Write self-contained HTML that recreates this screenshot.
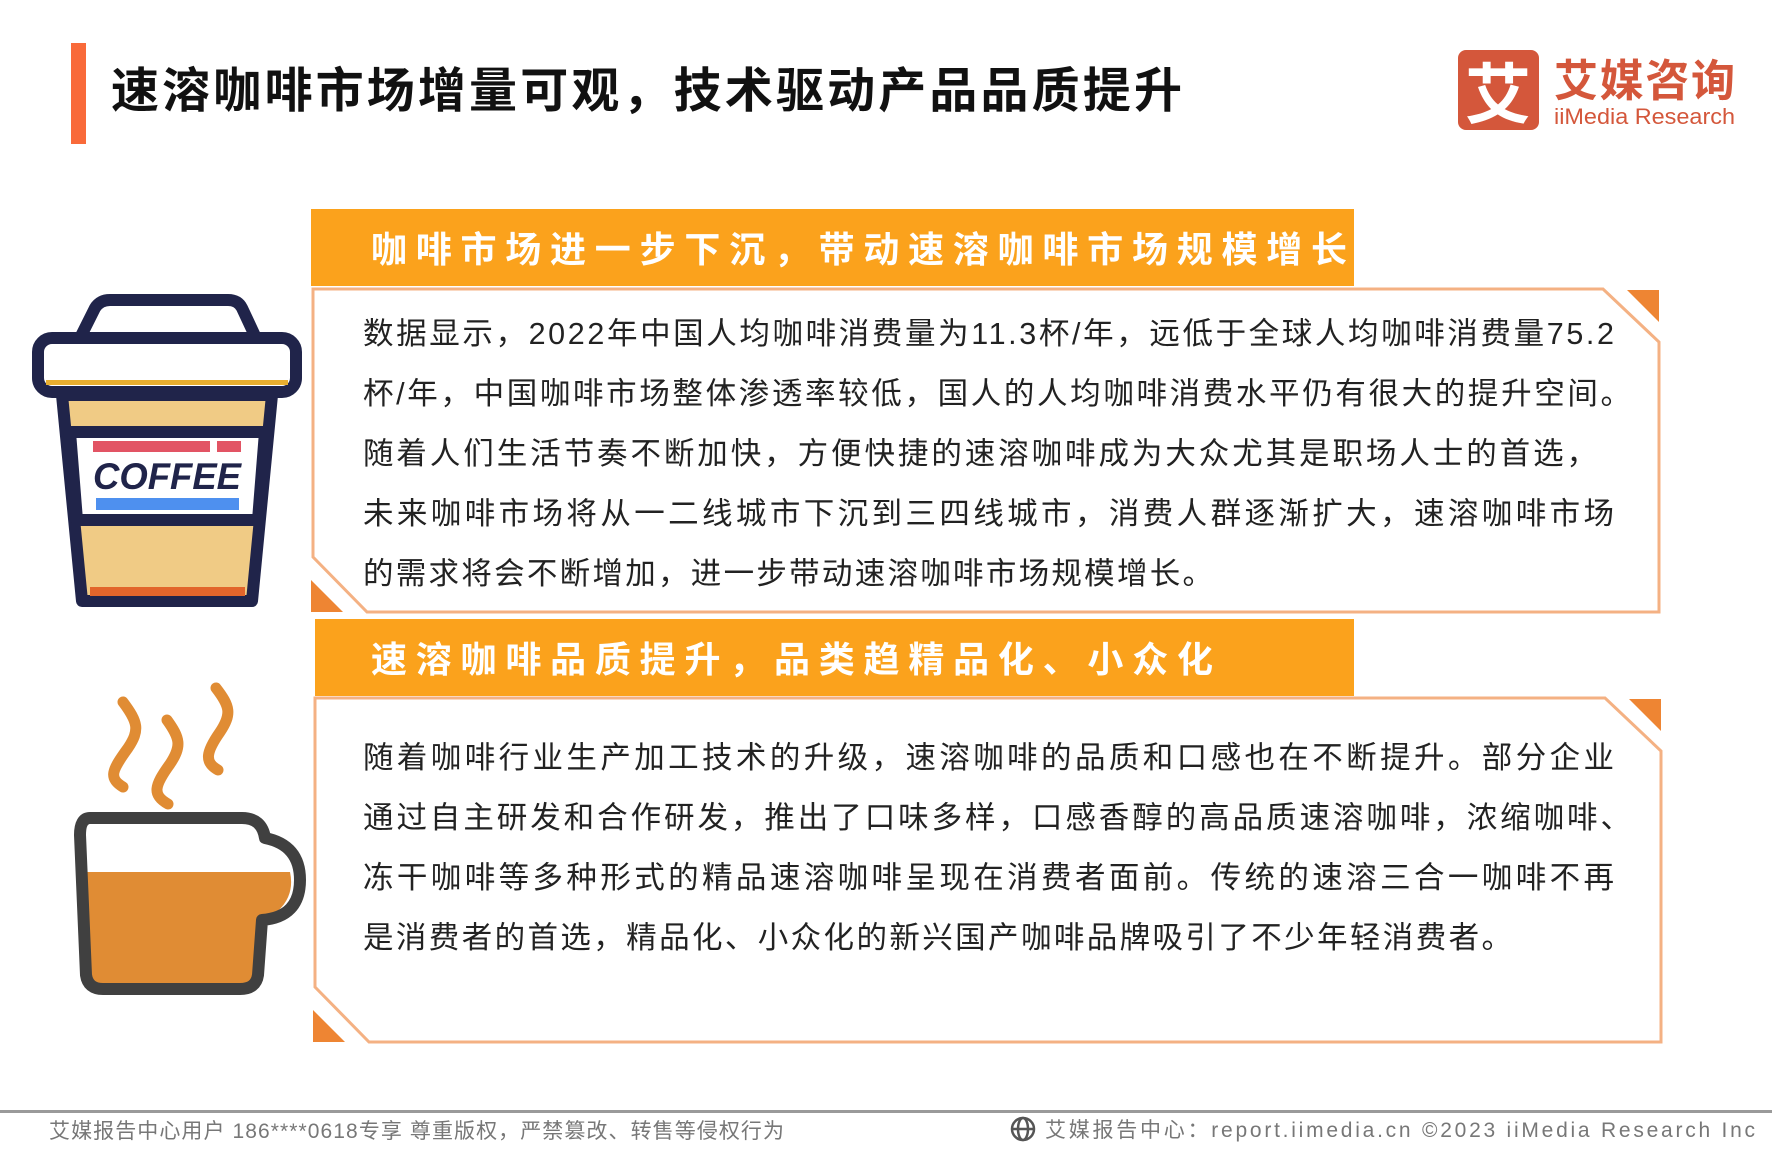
<!DOCTYPE html>
<html><head><meta charset="utf-8"><style>
html,body{margin:0;padding:0;background:#fff;width:1772px;height:1151px;overflow:hidden}
svg{display:block}
text{font-family:"Liberation Sans","Noto Sans CJK SC",sans-serif}
</style></head><body>
<svg width="1772" height="1151" viewBox="0 0 1772 1151" xmlns="http://www.w3.org/2000/svg">
<!-- title -->
<rect x="71" y="43" width="15" height="101" fill="#f96a3a"/>
<text x="111" y="107" font-size="48" font-weight="bold" fill="#111" textLength="1071" lengthAdjust="spacing">速溶咖啡市场增量可观，技术驱动产品品质提升</text>
<!-- logo -->
<rect x="1458" y="50" width="81" height="80" rx="8" fill="#d4573b"/>
<text x="1498" y="118" font-size="66" font-weight="bold" fill="#fff" text-anchor="middle">艾</text>
<text x="1554" y="96" font-size="44" font-weight="bold" fill="#d4573b" textLength="181" lengthAdjust="spacing">艾媒咨询</text>
<text x="1554" y="124" font-size="22" fill="#d4573b" textLength="181" lengthAdjust="spacingAndGlyphs">iiMedia Research</text>

<!-- section 1 -->
<rect x="311" y="209" width="1043" height="77" fill="#fba21c"/>
<text x="371" y="262" font-size="36" font-weight="bold" fill="#fff" textLength="976" lengthAdjust="spacing">咖啡市场进一步下沉，带动速溶咖啡市场规模增长</text>
<path d="M313,289 L1603,289 L1659,342 L1659,612 L367,612 L313,557 Z" fill="none" stroke="#f4b183" stroke-width="3"/>
<polygon points="1627,290 1659,290 1659,322" fill="#ee8533"/>
<polygon points="311,580 311,612 343,612" fill="#ee8533"/>
<g font-size="30.5" fill="#222">
<text x="363" y="344" textLength="1251" lengthAdjust="spacing">数据显示，2022年中国人均咖啡消费量为11.3杯/年，远低于全球人均咖啡消费量75.2</text>
<text x="363" y="404" textLength="1268" lengthAdjust="spacing">杯/年，中国咖啡市场整体渗透率较低，国人的人均咖啡消费水平仍有很大的提升空间。</text>
<text x="363" y="464" textLength="1234" lengthAdjust="spacing">随着人们生活节奏不断加快，方便快捷的速溶咖啡成为大众尤其是职场人士的首选，</text>
<text x="363" y="524" textLength="1251" lengthAdjust="spacing">未来咖啡市场将从一二线城市下沉到三四线城市，消费人群逐渐扩大，速溶咖啡市场</text>
<text x="363" y="584" textLength="850" lengthAdjust="spacing">的需求将会不断增加，进一步带动速溶咖啡市场规模增长。</text>
</g>

<!-- section 2 -->
<rect x="315" y="619" width="1039" height="77" fill="#fba21c"/>
<text x="371" y="672" font-size="36" font-weight="bold" fill="#fff" textLength="842" lengthAdjust="spacing">速溶咖啡品质提升，品类趋精品化、小众化</text>
<path d="M315,698 L1605,698 L1661,751 L1661,1042 L369,1042 L315,987 Z" fill="none" stroke="#f4b183" stroke-width="3"/>
<polygon points="1629,699 1661,699 1661,731" fill="#ee8533"/>
<polygon points="313,1010 313,1042 345,1042" fill="#ee8533"/>
<g font-size="30.5" fill="#222">
<text x="363" y="768" textLength="1251" lengthAdjust="spacing">随着咖啡行业生产加工技术的升级，速溶咖啡的品质和口感也在不断提升。部分企业</text>
<text x="363" y="828" textLength="1268" lengthAdjust="spacing">通过自主研发和合作研发，推出了口味多样，口感香醇的高品质速溶咖啡，浓缩咖啡、</text>
<text x="363" y="888" textLength="1251" lengthAdjust="spacing">冻干咖啡等多种形式的精品速溶咖啡呈现在消费者面前。传统的速溶三合一咖啡不再</text>
<text x="363" y="948" textLength="1149" lengthAdjust="spacing">是消费者的首选，精品化、小众化的新兴国产咖啡品牌吸引了不少年轻消费者。</text>
</g>

<!-- coffee cup -->
<g stroke="#20244a" stroke-width="12" stroke-linejoin="round">
<path d="M62,395 L272,395 L252,601 L82,601 Z" fill="#f0cb85"/>
<path d="M80,338 L95,308 Q100,300 110,300 L228,300 Q238,300 242,308 L256,338 Z" fill="#fff"/>
<rect x="38" y="338" width="258" height="54" rx="14" fill="#fff"/>
<path d="M70,432 L265,432 L258,520 L77,520 Z" fill="#fff"/>
</g>
<rect x="46" y="380" width="242" height="5" fill="#e8ae30"/>
<rect x="93" y="441" width="117" height="11" fill="#e25464"/>
<rect x="217" y="441" width="24" height="11" fill="#e25464"/>
<text x="93" y="489" font-size="37" font-weight="bold" font-style="italic" fill="#20244a" textLength="148" lengthAdjust="spacingAndGlyphs">COFFEE</text>
<rect x="96" y="498" width="143" height="12" fill="#4e90ef"/>
<rect x="90" y="587" width="155" height="9" fill="#e2652b"/>

<!-- mug -->
<g fill="none" stroke="#e08c34" stroke-width="11" stroke-linecap="round">
<path d="M123,702 C138,722 140,730 128,748 C112,770 108,778 123,787"/>
<path d="M167,720 C180,738 182,746 170,764 C154,786 152,795 168,804"/>
<path d="M216,688 C230,706 232,714 220,732 C206,752 204,762 218,770"/>
</g>
<path d="M84,872 L290,872 Q296,900 270,917 L262,920 L258,975 Q256,989 240,989 L103,989 Q88,989 86,975 Z" fill="#e08c34"/>
<path d="M90,818 L242,818 Q262,818 265,838 Q300,845 300,880 Q300,917 262,920 L258,975 Q256,989 240,989 L103,989 Q88,989 86,975 L80,835 Q80,818 90,818 Z" fill="none" stroke="#404040" stroke-width="12" stroke-linejoin="round"/>

<!-- footer -->
<rect x="0" y="1110" width="1772" height="3" fill="#9a9a9a"/>
<text x="49" y="1138" font-size="21" fill="#777" textLength="735" lengthAdjust="spacing">艾媒报告中心用户 186****0618专享 尊重版权，严禁篡改、转售等侵权行为</text>
<g stroke="#555" stroke-width="2.5" fill="none">
<circle cx="1023" cy="1129" r="11"/>
<ellipse cx="1023" cy="1129" rx="5" ry="11"/>
<line x1="1012" y1="1129" x2="1034" y2="1129"/>
</g>
<text x="1045" y="1137" font-size="21" fill="#777" textLength="710" lengthAdjust="spacing">艾媒报告中心：report.iimedia.cn   ©2023  iiMedia Research  Inc</text>
</svg>
</body></html>
